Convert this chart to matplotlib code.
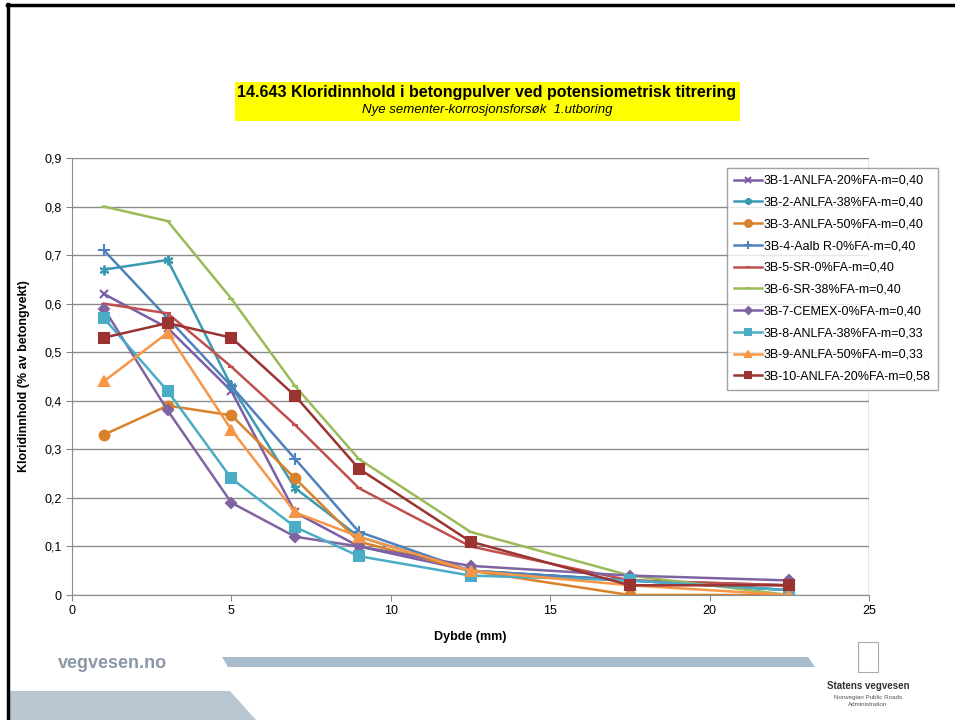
import matplotlib
matplotlib.use('Agg')
import matplotlib.pyplot as plt
from matplotlib.patches import Rectangle, Polygon
from matplotlib.lines import Line2D
import numpy as np

plt.rcParams['font.family'] = ['Liberation Sans', 'DejaVu Sans']

# dybde (mm)
dybde = [1, 3, 5, 7, 9, 12.5, 17.5, 22.5]

navn = ['3B-1-ANLFA-20%FA-m=0,40', '3B-2-ANLFA-38%FA-m=0,40', '3B-3-ANLFA-50%FA-m=0,40',
        '3B-4-Aalb R-0%FA-m=0,40', '3B-5-SR-0%FA-m=0,40', '3B-6-SR-38%FA-m=0,40',
        '3B-7-CEMEX-0%FA-m=0,40', '3B-8-ANLFA-38%FA-m=0,33', '3B-9-ANLFA-50%FA-m=0,33',
        '3B-10-ANLFA-20%FA-m=0,58']

s1 = [0.62, 0.55, 0.42, 0.17, 0.10, 0.05, 0.03, 0.02]
s2 = [0.67, 0.69, 0.43, 0.22, 0.12, 0.05, 0.03, 0.01]
s3 = [0.33, 0.39, 0.37, 0.24, 0.11, 0.05, 0.00, 0.00]
s4 = [0.71, 0.57, 0.43, 0.28, 0.13, 0.05, 0.03, 0.01]
s5 = [0.60, 0.58, 0.47, 0.35, 0.22, 0.10, 0.03, 0.02]
s6 = [0.80, 0.77, 0.61, 0.43, 0.28, 0.13, 0.04, 0.00]
s7 = [0.59, 0.38, 0.19, 0.12, 0.10, 0.06, 0.04, 0.03]
s8 = [0.57, 0.42, 0.24, 0.14, 0.08, 0.04, 0.03, 0.01]
s9 = [0.44, 0.54, 0.34, 0.17, 0.12, 0.05, 0.02, 0.00]
s10 = [0.53, 0.56, 0.53, 0.41, 0.26, 0.11, 0.02, 0.02]
serier = [s1, s2, s3, s4, s5, s6, s7, s8, s9, s10]

farger = ['#7B5EA7', '#3A9AB2', '#D9822B', '#4F81BD', '#C0504D',
          '#9BBB59', '#8064A2', '#4BACC6', '#F79646', '#9B3331']
markorer = ['x', (6, 2, 0), 'o', '+', '_', '_', 'D', 's', '^', 's']
mstr = [6, 7, 7, 8, 5, 5, 5, 7, 7, 7]

fig = plt.figure(figsize=(9.55, 7.2), dpi=100)

# ramme (bare topp og venstre)
fig.add_artist(Line2D([7 / 955, 1], [1 - 5 / 720, 1 - 5 / 720], transform=fig.transFigure,
                      color='black', linewidth=2.5))
fig.add_artist(Line2D([8 / 955, 8 / 955], [1 - 4 / 720, 0], transform=fig.transFigure,
                      color='black', linewidth=2.5))

ax = fig.add_axes([0.0754, 0.1736, 0.8346, 0.607])
for i in range(len(serier)):
    ax.plot(dybde, serier[i], color=farger[i], marker=markorer[i], markersize=mstr[i],
            markeredgewidth=1.5, linewidth=1.8, label=navn[i])

ax.set_xlim(0, 25)
ax.set_ylim(0, 0.9)
ax.set_xticks([0, 5, 10, 15, 20, 25])
ax.set_yticks(np.arange(0, 0.91, 0.1))
ax.set_yticklabels(['0', '0,1', '0,2', '0,3', '0,4', '0,5', '0,6', '0,7', '0,8', '0,9'])
ax.tick_params(labelsize=9, length=4, color='#888888', direction='out')
ax.grid(axis='y', color='#8c8c8c', linewidth=1)
ax.set_axisbelow(True)
for sp in ['left', 'bottom']:
    ax.spines[sp].set_color('#8c8c8c')
ax.spines['top'].set_visible(False)
ax.spines['right'].set_visible(False)
ax.axvline(25, color='#8c8c8c', linewidth=1)

ax.set_xlabel('Dybde (mm)', fontsize=9, fontweight='bold', labelpad=10)
ax.set_ylabel('Kloridinnhold (% av betongvekt)', fontsize=9, fontweight='bold', labelpad=10)

leg = ax.legend(loc='upper left', bbox_to_anchor=(0.822, 0.977), fontsize=9,
                frameon=True, fancybox=False, handlelength=2.2, labelspacing=0.78,
                borderpad=0.55, handletextpad=0.2, markerscale=0.7, borderaxespad=0)
leg.get_frame().set_edgecolor('#8c8c8c')
leg.get_frame().set_linewidth(1)

# tittel
fig.patches.append(Rectangle((235 / 955, 1 - 121 / 720), 505 / 955, 39 / 720,
                             transform=fig.transFigure, facecolor='#FFFF00', edgecolor='none'))
fig.text(487 / 955, 1 - 93 / 720, '14.643 Kloridinnhold i betongpulver ved potensiometrisk titrering',
         ha='center', va='center', fontsize=11.5, fontweight='bold')
fig.text(487 / 955, 1 - 110 / 720, 'Nye sementer-korrosjonsforsøk  1.utboring',
         ha='center', va='center', fontsize=9.5, style='italic')

# bunntekst
fig.text(58 / 955, 1 - 663 / 720, 'vegvesen.no', fontsize=13, fontweight='bold',
         color='#8a98a6', va='center')
fig.patches.append(Polygon([(222 / 955, 1 - 657 / 720), (808 / 955, 1 - 657 / 720),
                            (815 / 955, 1 - 667 / 720), (228 / 955, 1 - 667 / 720)],
                           closed=True, transform=fig.transFigure,
                           facecolor='#A9BCCC', edgecolor='none'))
fig.patches.append(Polygon([(10 / 955, 1 - 691 / 720), (230 / 955, 1 - 691 / 720),
                            (256 / 955, 0), (10 / 955, 0)],
                           closed=True, transform=fig.transFigure,
                           facecolor='#B8C6D2', edgecolor='none'))
fig.patches.append(Rectangle((858 / 955, 1 - 672 / 720), 20 / 955, 30 / 720,
                             transform=fig.transFigure, facecolor='white', edgecolor='#aaaaaa',
                             linewidth=0.8))
fig.text(868 / 955, 1 - 686 / 720, 'Statens vegvesen', fontsize=7, fontweight='bold',
         ha='center', va='center', color='#333333')
fig.text(868 / 955, 1 - 697 / 720, 'Norwegian Public Roads', fontsize=4.5,
         ha='center', va='center', color='#555555')
fig.text(868 / 955, 1 - 705 / 720, 'Administration', fontsize=4.5,
         ha='center', va='center', color='#555555')

fig.savefig('out.png', dpi=100)
